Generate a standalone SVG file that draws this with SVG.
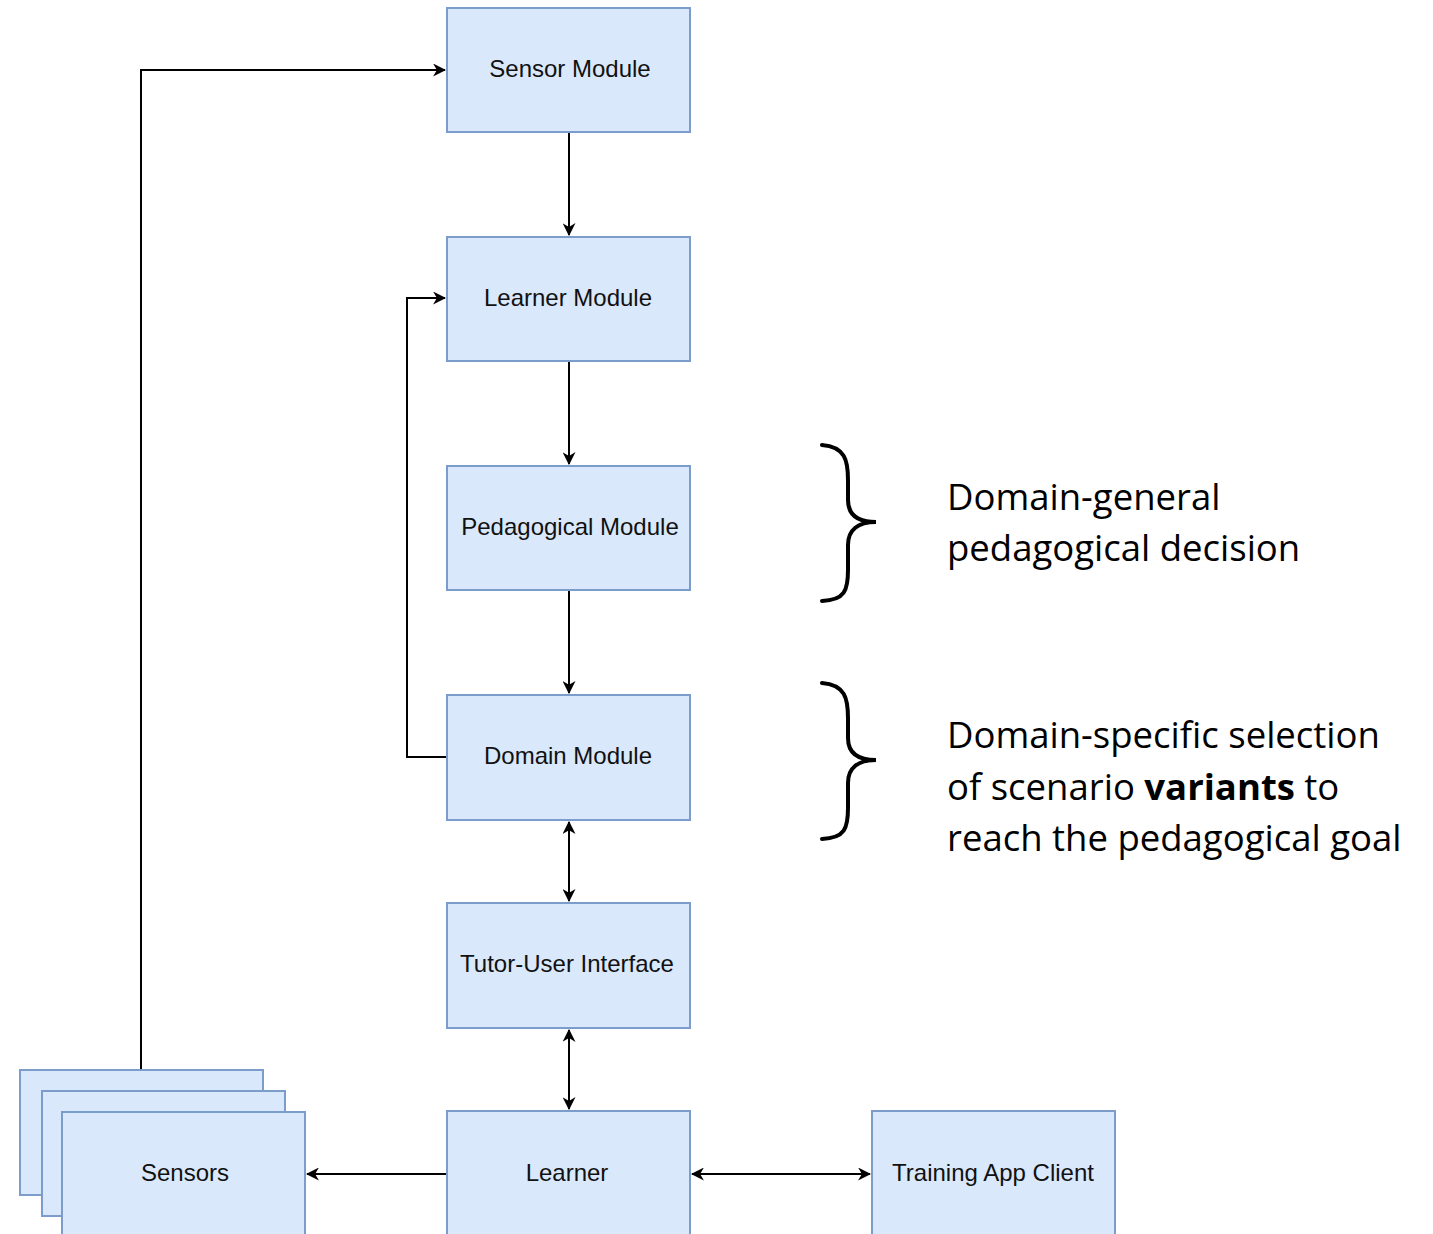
<svg xmlns="http://www.w3.org/2000/svg" width="1433" height="1234" viewBox="0 0 1433 1234">
<defs>
<marker id="ah" viewBox="0 0 12 12" refX="11" refY="6" markerWidth="13" markerHeight="13" markerUnits="userSpaceOnUse" orient="auto-start-reverse">
<path d="M0,0 L12,6 L0,12 L3.5,6 Z" fill="#000"/>
</marker>
<style>
.box{fill:#dae8fc;stroke:#7c9dcc;stroke-width:2}
.lbl{font-family:"Liberation Sans",Arial,sans-serif;font-size:24px;fill:#111;text-anchor:middle;dominant-baseline:central}
.ann{font-family:"Open Sans","Liberation Sans",sans-serif;font-size:36.5px;fill:#000}
.edge{fill:none;stroke:#000;stroke-width:2}
.brace{fill:none;stroke:#000;stroke-width:4;stroke-linecap:round}
</style>
</defs>
<rect width="1433" height="1234" fill="#fff"/>
<g id="connectors">
<path class="edge" d="M141,1070 V70 H445" marker-end="url(#ah)"/>
<path class="edge" d="M569,132 V235" marker-end="url(#ah)"/>
<path class="edge" d="M569,361 V464" marker-end="url(#ah)"/>
<path class="edge" d="M569,590 V693" marker-end="url(#ah)"/>
<path class="edge" d="M447,757 H407 V298 H445" marker-end="url(#ah)"/>
<path class="edge" d="M569,822 V901" marker-start="url(#ah)" marker-end="url(#ah)"/>
<path class="edge" d="M569,1030 V1109" marker-start="url(#ah)" marker-end="url(#ah)"/>
<path class="edge" d="M447,1174 H307" marker-end="url(#ah)"/>
<path class="edge" d="M692,1174 H870" marker-start="url(#ah)" marker-end="url(#ah)"/>
</g>
<g id="sensor-module"><rect class="box" x="447" y="8" width="243" height="124"/><text class="lbl" x="570" y="68">Sensor Module</text></g>
<g id="learner-module"><rect class="box" x="447" y="237" width="243" height="124"/><text class="lbl" x="568" y="297">Learner Module</text></g>
<g id="pedagogical-module"><rect class="box" x="447" y="466" width="243" height="124"/><text class="lbl" x="570" y="526">Pedagogical Module</text></g>
<g id="domain-module"><rect class="box" x="447" y="695" width="243" height="125"/><text class="lbl" x="568" y="755">Domain Module</text></g>
<g id="tutor-user-interface"><rect class="box" x="447" y="903" width="243" height="125"/><text class="lbl" x="567" y="963">Tutor-User Interface</text></g>
<g id="learner"><rect class="box" x="447" y="1111" width="243" height="130"/><text class="lbl" x="567" y="1172">Learner</text></g>
<g id="training-app-client"><rect class="box" x="872" y="1111" width="243" height="130"/><text class="lbl" x="993" y="1172">Training App Client</text></g>
<g id="sensors">
<rect class="box" x="20" y="1070" width="243" height="125"/>
<rect class="box" x="42" y="1091" width="243" height="125"/>
<rect class="box" x="62" y="1112" width="243" height="130"/>
<text class="lbl" x="185" y="1172">Sensors</text>
</g>
<g id="annotation-general">
<path class="brace" d="M822,445 C845,447 848,460 848,480 V500 C848,515 858,522 876,522 C858,522 848,530 848,545 V570 C848,590 845,600 822,601"/>
<text class="ann" x="947" y="510">Domain-general</text>
<text class="ann" x="947" y="561">pedagogical decision</text>
</g>
<g id="annotation-specific">
<path class="brace" d="M822,683 C845,685 848,698 848,718 V738 C848,753 858,760 876,760 C858,760 848,768 848,783 V808 C848,828 845,838 822,839"/>
<text class="ann" x="947" y="748">Domain-specific selection</text>
<text class="ann" x="947" y="800">of scenario <tspan font-weight="bold">variants</tspan> to</text>
<text class="ann" x="947" y="851">reach the pedagogical goal</text>
</g>
</svg>
